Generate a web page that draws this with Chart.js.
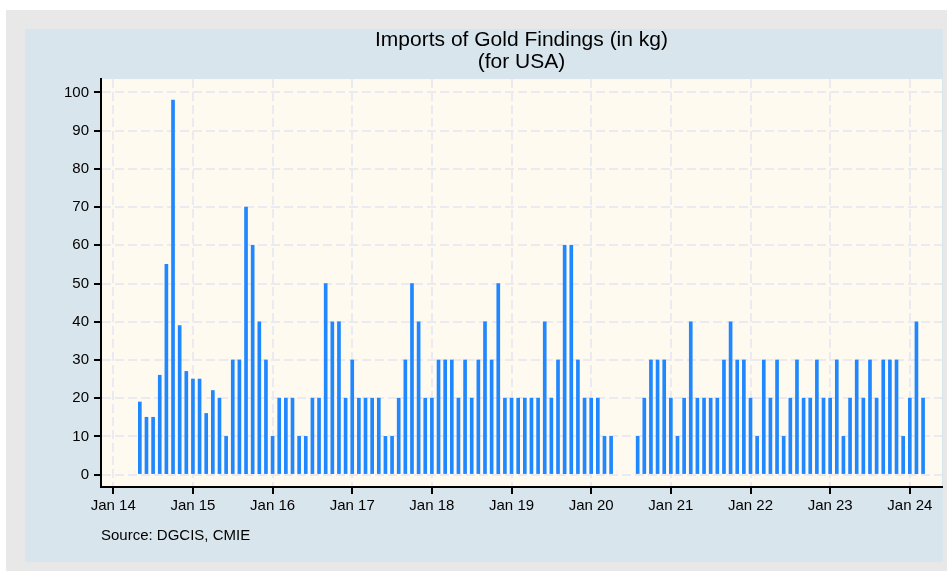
<!DOCTYPE html>
<html>
<head>
<meta charset="utf-8">
<title>Imports of Gold Findings</title>
<script src="https://cdn.jsdelivr.net/npm/chart.js@4.4.1/dist/chart.umd.min.js"></script>
<style>
  html, body { margin: 0; padding: 0; background: #ffffff; }
  #wrap { width: 947px; height: 571px; position: relative; }
</style>
</head>
<body>
<div id="wrap"><canvas id="goldChart"></canvas></div>
<script>
// Tick labels
const yearTickLabels = ['Jan 14', 'Jan 15', 'Jan 16', 'Jan 17', 'Jan 18', 'Jan 19',
                        'Jan 20', 'Jan 21', 'Jan 22', 'Jan 23', 'Jan 24'];
const yTickValues = [0, 10, 20, 30, 40, 50, 60, 70, 80, 90, 100];

// Monthly imports (kg), Jan..Dec, null = no data
const imports2014 = [null, null, null, null, 19, 15, 15, 26, 55, 98, 39, 27];
const imports2015 = [25, 25, 16, 22, 20, 10, 30, 30, 70, 60, 40, 30];
const imports2016 = [10, 20, 20, 20, 10, 10, 20, 20, 50, 40, 40, 20];
const imports2017 = [30, 20, 20, 20, 20, 10, 10, 20, 30, 50, 40, 20];
const imports2018 = [20, 30, 30, 30, 20, 30, 20, 30, 40, 30, 50, 20];
const imports2019 = [20, 20, 20, 20, 20, 40, 20, 30, 60, 60, 30, 20];
const imports2020 = [20, 20, 10, 10, null, null, null, 10, 20, 30, 30, 30];
const imports2021 = [20, 10, 20, 40, 20, 20, 20, 20, 30, 40, 30, 30];
const imports2022 = [20, 10, 30, 20, 30, 10, 20, 30, 20, 20, 30, 20];
const imports2023 = [20, 30, 10, 20, 30, 20, 30, 20, 30, 30, 30, 10];
const imports2024 = [20, 40, 20];

const yearlyImports = [imports2014, imports2015, imports2016, imports2017, imports2018,
                       imports2019, imports2020, imports2021, imports2022, imports2023, imports2024];

// months counted from Jan 2014
const importPoints = [];
yearlyImports.forEach((vals, yi) => {
  vals.forEach((v, m) => {
    if (v !== null) importPoints.push({ x: yi * 12 + m, y: v });
  });
});

const fontFamily = "'Liberation Sans', Arial, Helvetica, sans-serif";

// Stata-like background: grey frame, blue-grey panel, cream plot region
const backgroundPlugin = {
  id: 'stataBackground',
  beforeDraw(chart) {
    const { ctx, chartArea } = chart;
    ctx.save();
    ctx.fillStyle = '#ffffff';
    ctx.fillRect(0, 0, chart.width, chart.height);
    ctx.fillStyle = '#e8e8e8';
    ctx.fillRect(6, 10, chart.width - 6, chart.height - 10);
    ctx.fillStyle = '#d9e5ec';
    ctx.fillRect(25, 29, 918, 533);
    ctx.fillStyle = '#fffaef';
    ctx.fillRect(chartArea.left, chartArea.top, chartArea.right - chartArea.left, chartArea.bottom - chartArea.top);
    ctx.restore();
  }
};

const ctx = document.getElementById('goldChart');
new Chart(ctx, {
  type: 'bar',
  data: {
    datasets: [{
      label: 'Imports of Gold Findings',
      data: importPoints,
      backgroundColor: '#1f87ff',
      barThickness: 3
    }]
  },
  options: {
    responsive: true,
    maintainAspectRatio: false,
    animation: false,
    layout: { padding: { top: 0, right: 5, bottom: 26, left: 0 } },
    plugins: {
      legend: { display: false },
      tooltip: { enabled: false },
      title: {
        display: true,
        fullSize: false,
        text: ['Imports of Gold Findings (in kg)', '(for USA)'],
        color: '#000000',
        font: { family: fontFamily, size: 21, weight: 'normal', lineHeight: 1.05 },
        padding: { top: 29, bottom: 6 }
      },
      subtitle: {
        display: true,
        fullSize: false,
        position: 'bottom',
        align: 'start',
        text: 'Source: DGCIS, CMIE',
        color: '#000000',
        font: { family: fontFamily, size: 15, weight: 'normal', lineHeight: 1.2 },
        padding: { top: 0, bottom: 0 }
      }
    },
    scales: {
      x: {
        type: 'linear',
        min: -1.85,
        max: 124.85,
        offset: false,
        afterBuildTicks: axis => {
          axis.ticks = yearTickLabels.map((_, i) => ({ value: i * 12 }));
        },
        afterFit: axis => { axis.height = 40; },
        ticks: {
          autoSkip: false,
          maxRotation: 0,
          padding: 3,
          color: '#000000',
          font: { family: fontFamily, size: 15 },
          callback: value => yearTickLabels[Math.round(value / 12)]
        },
        grid: {
          offset: false,
          color: '#eaeaf0',
          lineWidth: 2,
          tickColor: '#000000',
          tickLength: 7,
          tickWidth: 2
        },
        border: { color: '#000000', width: 2, dash: [9, 4] }
      },
      y: {
        min: -3.25,
        max: 103.5,
        afterBuildTicks: axis => {
          axis.ticks = yTickValues.map(v => ({ value: v }));
        },
        afterFit: axis => { axis.width = 101; },
        ticks: {
          padding: 5,
          color: '#000000',
          font: { family: fontFamily, size: 15 }
        },
        grid: {
          color: '#eaeaf0',
          lineWidth: 2,
          tickColor: '#000000',
          tickLength: 7,
          tickWidth: 2
        },
        border: { color: '#000000', width: 2, dash: [9, 4] }
      }
    }
  },
  plugins: [backgroundPlugin]
});
</script>
</body>
</html>
